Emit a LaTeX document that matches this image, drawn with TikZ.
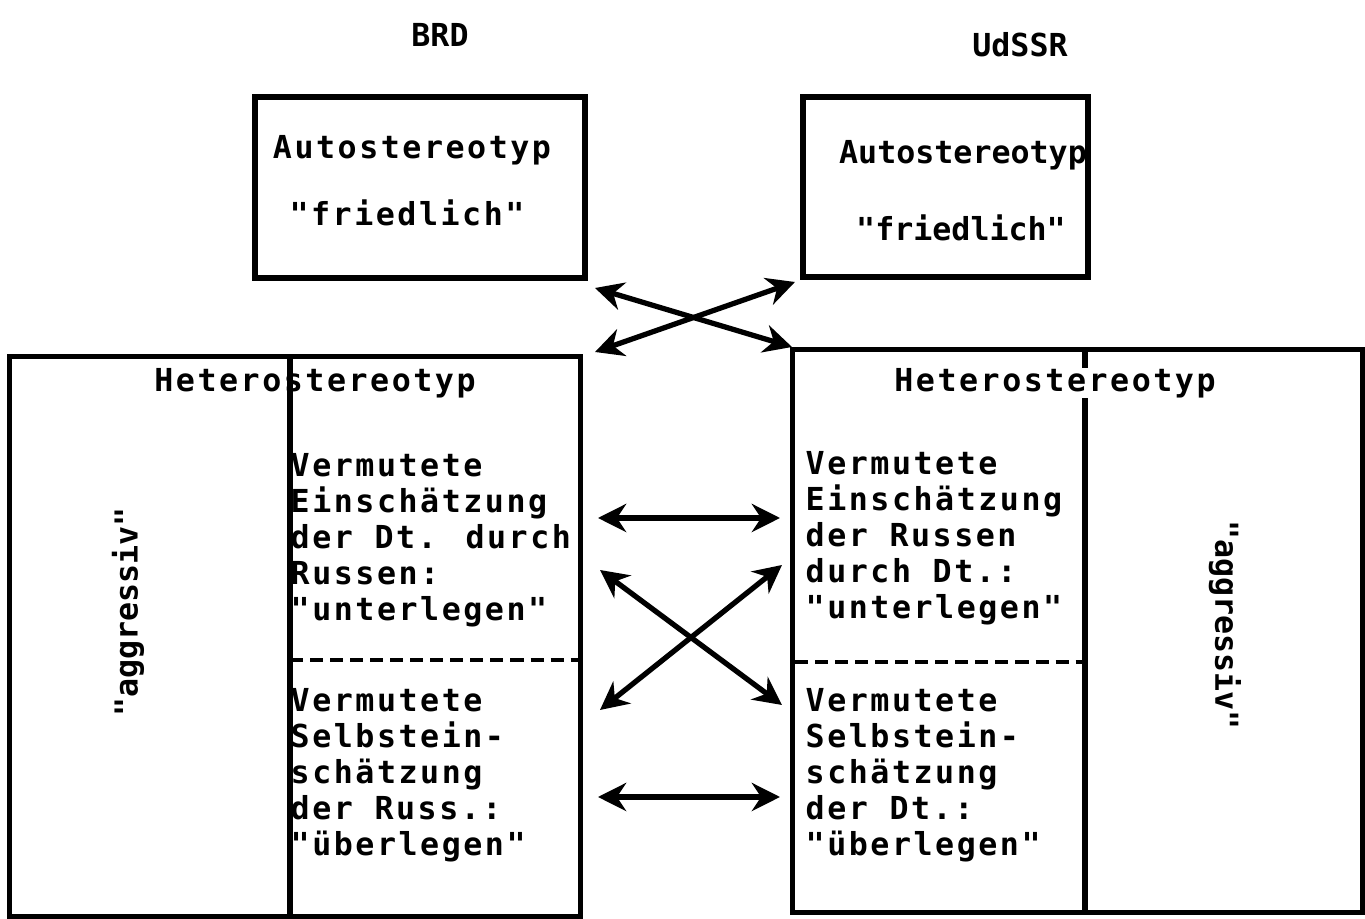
\documentclass[tikz,border=0pt]{standalone}
\usepackage{fontspec}
\newfontfamily\typer{DejaVu Sans Mono}[LetterSpace=8]
\newfontfamily\typerN{DejaVu Sans Mono}
\usetikzlibrary{arrows.meta}

\begin{document}
\begin{tikzpicture}[x=0.01cm, y=-0.01cm,
    frame/.style={draw, line width=1.5pt, inner sep=0pt},
    txt/.style={font=\typer\bfseries\fontsize{9}{10.2}\selectfont, inner sep=0pt},
    txtN/.style={font=\typerN\bfseries\fontsize{9}{10.2}\selectfont, inner sep=0pt},
    block/.style={txt, align=left, anchor=north west},
    link/.style={{Stealth[length=8pt,width=8pt]}-{Stealth[length=8pt,width=8pt]}, line width=1.5pt},
    sep/.style={line width=1pt, dash pattern=on 3.7pt off 2pt}]
    \useasboundingbox (0,0) rectangle (1365,919);

    % Kopf
    \node[txtN] (brd) at (440,35) {BRD};
    \node[txtN] (udssr) at (1020,45) {UdSSR};

    % Autostereotypen
    \node[frame, minimum width=3.30cm, minimum height=1.81cm] (autoL) at (420,187.5) {};
    \node[frame, minimum width=2.85cm, minimum height=1.80cm] (autoR) at (945.5,187) {};
    \node[txt] (autoLt) at (412,150) {Autostereotyp};
    \node[txt] (autoLf) at (407,213) {"friedlich"};
    \node[txtN] (autoRt) at (963,155) {Autostereotyp};
    \node[txtN] (autoRf) at (961,228) {"friedlich"};

    % Heterostereotypen
    \node[frame, minimum width=5.70cm, minimum height=5.59cm] (heteroL) at (295,636.5) {};
    \node[frame, minimum width=5.69cm, minimum height=5.62cm] (heteroR) at (1077.5,631) {};
    \coordinate (divL) at (290,0);
    \coordinate (divR) at (1085,0);
    \draw[line width=1.5pt] (divL |- heteroL.north) -- (divL |- heteroL.south);
    \draw[line width=1.5pt] (divR |- heteroR.north) -- (divR |- heteroR.south);
    \draw[sep] (290,660) -- (578,660);
    \draw[sep] (795,662) -- (1085,662);

    \node[txt] (hetL) at (315,383) {Heterostereotyp};
    \node[txt, fill=white] (hetR) at (1055,383) {Heterostereotyp};
    \node[txtN, rotate=90] (aggL) at (128,612) {"aggressiv"};
    \node[txtN, rotate=-90] (aggR) at (1225,625) {"aggressiv"};

    \node[block] (vL1) at (290,453) {Vermutete\\Einschätzung\\der Dt. durch\\Russen:\\"unterlegen"};
    \node[block] (vL2) at (290,688) {Vermutete\\Selbstein-\\schätzung\\der Russ.:\\"überlegen"};
    \node[block] (vR1) at (805,451) {Vermutete\\Einschätzung\\der Russen\\durch Dt.:\\"unterlegen"};
    \node[block] (vR2) at (805,688) {Vermutete\\Selbstein-\\schätzung\\der Dt.:\\"überlegen"};

    % Pfeile
    \coordinate (tl1) at (595,288);
    \coordinate (tr1) at (792,347);
    \coordinate (tl2) at (595,352);
    \coordinate (tr2) at (795,282);
    \coordinate (m1l) at (598,518);
    \coordinate (m1r) at (780,518);
    \coordinate (c1l) at (600,570);
    \coordinate (c1r) at (782,705);
    \coordinate (c2l) at (600,710);
    \coordinate (c2r) at (782,565);
    \coordinate (m2l) at (598,797);
    \coordinate (m2r) at (780,797);

    \draw[link] (tl1) -- (tr1);
    \draw[link] (tl2) -- (tr2);
    \draw[link] (m1l) -- (m1r);
    \draw[link] (c1l) -- (c1r);
    \draw[link] (c2l) -- (c2r);
    \draw[link] (m2l) -- (m2r);
\end{tikzpicture}
\end{document}
